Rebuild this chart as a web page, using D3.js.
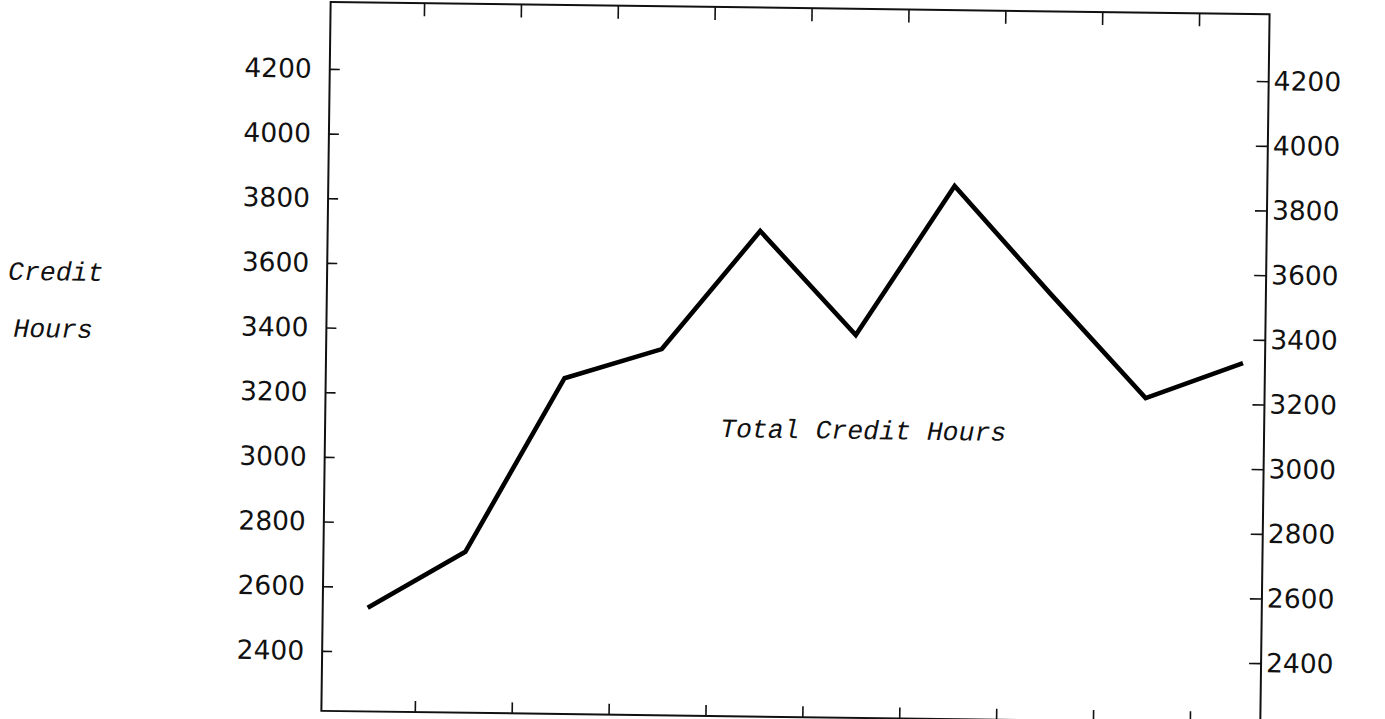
<!DOCTYPE html>
<html>
<head>
<meta charset="utf-8">
<script src="https://cdn.jsdelivr.net/npm/d3@7"></script>
<style>
  html, body { margin: 0; padding: 0; background: #fff; overflow: hidden; }
  svg { display: block; }
</style>
</head>
<body>
<script>
// ---- Data ----
const categories = ["1", "2", "3", "4", "5", "6", "7", "8", "9", "10"]; // unlabelled periods
const creditHours = [2535, 2712, 3253, 3347, 3716, 3398, 3863, 3535, 3215, 3327];
const yTickValues = [2400, 2600, 2800, 3000, 3200, 3400, 3600, 3800, 4000, 4200];
const seriesLabel = "Total Credit Hours";
const yTitleLines = ["Credit", "Hours"];

// ---- Layout ----
const W = 1385, H = 719;
const frame = { left: 326, right: 1265, top: 8, bottom: 717 };
const ink = "#111";

const svg = d3.select("body").append("svg")
  .attr("width", W).attr("height", H)
  .attr("viewBox", `0 0 ${W} ${H}`);

// slight tilt, as in the scanned original
const g = svg.append("g").attr("transform", "rotate(0.75, 792, 360)");

const x = d3.scaleLinear()
  .domain([0, categories.length - 1])
  .range([371, 1243]);

const y = d3.scaleLinear()
  .domain([2400, 4200])
  .range([657, 75]);

// frame
g.append("rect")
  .attr("x", frame.left).attr("y", frame.top)
  .attr("width", frame.right - frame.left)
  .attr("height", frame.bottom - frame.top)
  .attr("fill", "none").attr("stroke", ink).attr("stroke-width", 2);

// x ticks at boundaries between periods
const xTicks = d3.range(0.5, categories.length - 1, 1);

const styleAxis = sel => {
  sel.select(".domain").remove();
  sel.selectAll(".tick line").attr("stroke", ink).attr("stroke-width", 1.6);
  sel.selectAll(".tick text")
    .attr("fill", ink)
    .style("font-family", "'DejaVu Sans', sans-serif")
    .style("font-size", "26.5px");
};

g.append("g")
  .attr("transform", `translate(0,${frame.top})`)
  .call(d3.axisTop(x).tickValues(xTicks).tickFormat("").tickSize(-13))
  .call(styleAxis);

g.append("g")
  .attr("transform", `translate(0,${frame.bottom})`)
  .call(d3.axisBottom(x).tickValues(xTicks).tickFormat("").tickSize(-11))
  .call(styleAxis);

g.append("g")
  .attr("transform", `translate(${frame.left},0)`)
  .call(d3.axisLeft(y).tickValues(yTickValues).tickFormat(d3.format("d")).tickSize(-10).tickPadding(18))
  .call(styleAxis);

g.append("g")
  .attr("transform", `translate(${frame.right},0)`)
  .call(d3.axisRight(y).tickValues(yTickValues).tickFormat(d3.format("d")).tickSize(-12).tickPadding(5))
  .call(styleAxis);

// data line
const line = d3.line()
  .x((d, i) => x(i))
  .y(d => y(d));

g.append("path")
  .datum(creditHours)
  .attr("d", line)
  .attr("fill", "none")
  .attr("stroke", "#000")
  .attr("stroke-width", 4.6)
  .attr("stroke-linejoin", "miter")
  .attr("stroke-linecap", "butt");

// typewriter-style labels
const typeFont = "'Liberation Mono', 'DejaVu Sans Mono', monospace";

g.append("text")
  .attr("x", 721).attr("y", 438)
  .style("font-family", typeFont)
  .style("font-style", "italic")
  .style("font-size", "26.5px")
  .attr("fill", ink)
  .text(seriesLabel);

g.selectAll("text.ytitle")
  .data(yTitleLines)
  .join("text")
  .attr("class", "ytitle")
  .attr("x", (d, i) => i === 0 ? 7 : 13)
  .attr("y", (d, i) => i === 0 ? 290 : 347)
  .style("font-family", typeFont)
  .style("font-style", "italic")
  .style("font-size", "26.5px")
  .attr("fill", ink)
  .text(d => d);
</script>
</body>
</html>
